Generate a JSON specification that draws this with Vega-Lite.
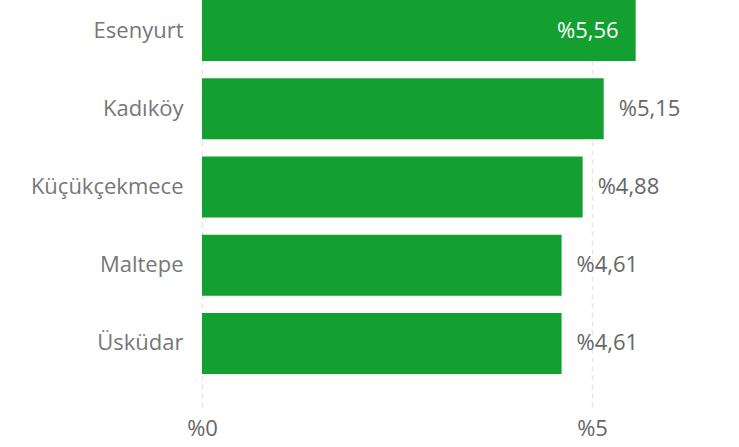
{
  "$schema": "https://vega.github.io/schema/vega-lite/v6.json",
  "autosize": {"type": "none"},
  "padding": {"left": 202, "top": 0, "right": 30, "bottom": 40},
  "width": 507,
  "height": 407,
  "background": "white",
  "data": {"values": [
    {"ilce": "Esenyurt", "oran": 5.56},
    {"ilce": "Kadıköy", "oran": 5.15},
    {"ilce": "Küçükçekmece", "oran": 4.88},
    {"ilce": "Maltepe", "oran": 4.61},
    {"ilce": "Üsküdar", "oran": 4.61}
  ]},
  "transform": [
    {"calculate": "'%' + replace(format(datum.oran, '.2f'), '.', ',')", "as": "etiket"}
  ],
  "encoding": {
    "y": {"field": "ilce", "type": "nominal", "sort": null, "title": null,
      "scale": {"range": [0, 374], "paddingInner": 0.22, "paddingOuter": 0},
      "axis": {"domain": false, "ticks": false, "labelFontSize": 22, "labelColor": "#777777", "labelPadding": 19, "labelFont": "Open Sans", "labelFontWeight": "normal"}},
    "x": {"field": "oran", "type": "quantitative", "title": null,
      "scale": {"domain": [0, 6.5], "nice": false},
      "axis": {"values": [0, 5], "labelExpr": "'%' + datum.value", "domain": false, "ticks": false, "labelFlush": false,
        "grid": true, "gridColor": "#e6e6e6", "gridDash": [5, 4], "gridWidth": 1.5,
        "labelFontSize": 22, "labelColor": "#666666", "labelPadding": 11, "labelFont": "Open Sans"}}
  },
  "layer": [
    {"mark": {"type": "bar", "color": "#13a031"}},
    {"transform": [{"filter": "datum.oran < 5.4"}],
     "mark": {"type": "text", "align": "left", "baseline": "middle", "dx": 15, "fontSize": 22, "color": "#666666", "font": "Open Sans"},
     "encoding": {"text": {"field": "etiket"}}},
    {"transform": [{"filter": "datum.oran >= 5.4"}],
     "mark": {"type": "text", "align": "right", "baseline": "middle", "dx": -17, "fontSize": 22, "color": "white", "font": "Open Sans"},
     "encoding": {"text": {"field": "etiket"}}}
  ],
  "config": {"view": {"stroke": null}}
}
